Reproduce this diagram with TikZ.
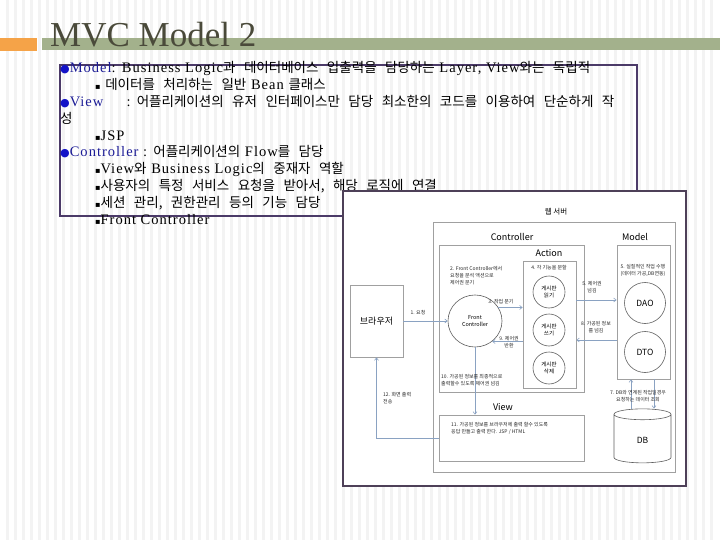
\documentclass[tikz,border=0pt]{standalone}
\usepackage{fontspec}
\setmainfont{Liberation Serif}[LetterSpace=7]
\newfontfamily\krf{Noto Sans CJK KR}[Scale=0.9995]
\newfontfamily\krbody{Noto Sans CJK KR}[WordSpace=2.8]
\newfontfamily\symf{DejaVu Sans}
\usetikzlibrary{arrows.meta, positioning, shapes.geometric, calc}
\definecolor{stripe}{HTML}{F3F3F3}
\definecolor{orangebar}{HTML}{F5A348}
\definecolor{greenbar}{HTML}{A3B18C}
\definecolor{titletext}{HTML}{4A4A3A}
\definecolor{boxline}{HTML}{4B3A68}
\definecolor{bulblue}{HTML}{1414C8}
\definecolor{keyblue}{HTML}{1C1C96}
\definecolor{frameline}{HTML}{4E4058}
\definecolor{grayline}{HTML}{A0A0A0}
\definecolor{circline}{HTML}{606060}
\definecolor{flowline}{HTML}{8AA2C2}
\definecolor{tinytext}{HTML}{262626}
\newcommand\hg[1]{{\krbody\fontsize{13.5}{14}\selectfont #1}}
\newcommand\bul{{\symf\fontsize{11}{11}\selectfont\color{bulblue}●}}
\newcommand\sq{{\symf\fontsize{8}{8}\selectfont ▪}}
\tikzset{
  txt/.style     = {anchor=base west, inner sep=0pt, font=\fontsize{14.5}{15}\selectfont},
  grp/.style     = {draw=grayline, line width=0.8pt, minimum width=#1},
  grp/.default   = 10pt,
  circ/.style    = {ellipse, draw=circline, line width=0.6pt, align=center, inner sep=0pt,
                    font=\krf\fontsize{5.5}{6.5}\selectfont},
  steplbl/.style = {align=left, inner sep=0pt, text=tinytext, font=\krf\fontsize{5}{7}\selectfont},
  hdr/.style     = {inner sep=0pt, font=\krf\fontsize{9}{10}\selectfont},
  flow/.style    = {-{Straight Barb[length=2.5pt,width=4pt]}, draw=flowline, line width=0.6pt},
}

\begin{document}
\begin{tikzpicture}[x=1pt, y=-1pt]
  \useasboundingbox (0,0) rectangle (720,540);
  % slide background
  \foreach \sx in {7.5,15.5,...,719} {\fill[stripe] (\sx-1.2,0) rectangle (\sx+1.2,540);}
  \fill[orangebar] (0,38) rectangle (37,51);
  \fill[greenbar] (42,38) rectangle (720,50);
  \node[anchor=base west, inner sep=0pt, text=titletext, font=\addfontfeatures{LetterSpace=0}\fontsize{35}{35}\selectfont]
    (title) at (50,47) {MVC Model 2};

  % bullet text
  \draw[boxline, line width=1.2pt] (60,65) rectangle (637,216);
  \node[txt] (l1) at (60,73.0) {\bul{\color{keyblue}Model}: Business Logic\hg{과 데이터베이스 입출력을 담당하는} Layer, View\hg{와는 독립적}};
  \node[txt] (l2) at (95,89.8) {\sq\ \hg{데이터를 처리하는 일반} Bean \hg{클래스}};
  \node[txt] (l3) at (60,106.6) {\bul{\color{keyblue}View}\ \ \ \ \ : \hg{어플리케이션의 유저 인터페이스만 담당 최소한의 코드를 이용하여 단순하게 작}};
  \node[txt] (l4) at (60,123.4) {\hg{성}};
  \node[txt] (l5) at (95,140.2) {\sq JSP};
  \node[txt] (l6) at (60,157.0) {\bul{\color{keyblue}Controller} : \hg{어플리케이션의} Flow\hg{를 담당}};
  \node[txt] (l7) at (95,173.8) {\sq View\hg{와} Business Logic\hg{의 중재자 역할}};
  \node[txt] (l8) at (95,190.6) {\sq\hg{사용자의 특정 서비스 요청을 받아서, 해당 로직에 연결}};
  \node[txt] (l9) at (95,207.4) {\sq\hg{세션 관리, 권한관리 등의 기능 담당}};
  \node[txt] (l10) at (95,224.2) {\sq Front Controller};

  % web server figure
  \draw[frameline, fill=white, line width=1.3pt] (343,191) rectangle (686,486);
  \node[hdr, font=\krf\fontsize{7.5}{8}\selectfont] (wstitle) at (556,212) {웹 서버};
  \node[grp=242pt, minimum height=250pt] (web) at (554,347) {};
  \node[hdr] (ctrltitle) at (512,237) {Controller};
  \node[grp=145pt, minimum height=147pt] (ctrl) at (511.5,318.5) {};
  \node[hdr] (acttitle) at (549,253) {Action};
  \node[grp=53pt, minimum height=127pt] (act) at (549.5,324.5) {};
  \node[hdr] (modeltitle) at (635,237) {Model};
  \node[grp=53pt, minimum height=134pt] (model) at (643.5,312) {};
  \node[hdr] (viewtitle) at (503,407) {View};
  \node[grp=145pt, minimum height=46pt] (view) at (511.5,438) {};
  \node[grp=53pt, minimum height=72pt, font=\krf\fontsize{9}{10}\selectfont] (browser) at (376.5,321) {브라우저};

  \node[circ, minimum width=54pt, minimum height=52pt] (fc) at (475,321) {Front\\Controller};
  \foreach \nm/\yy/\lb in {rd/292/읽기, wr/330/쓰기, del/368/삭제}
    {\node[circ, minimum size=32pt] (\nm) at (549,\yy) {게시판\\\lb};}
  \node[circ, minimum size=41pt, font=\krf\fontsize{8.5}{9}\selectfont] (dao) at (645,303) {DAO};
  \node[circ, minimum size=41pt, font=\krf\fontsize{8.5}{9}\selectfont] (dto) at (645,352) {DTO};
  \node[cylinder, shape border rotate=90, draw=circline, line width=0.6pt, aspect=0.6,
        minimum width=57pt, minimum height=54pt, font=\krf\fontsize{8.5}{9}\selectfont] (db) at (642.5,440) {DB};

  % connectors
  \coordinate (p5) at ($(model.west)+(0,-12)$);
  \coordinate (p8) at ($(model.west)+(0,28)$);
  \coordinate (pu) at ($(model.south)+(-12.5,0)$);
  \coordinate (pd) at ($(model.south)+(10.5,0)$);
  \draw[flow] (browser.east) -- (fc.west |- browser.east);
  \draw[flow] (fc.30) -- (fc.30 -| act.west);
  \draw[flow] (fc.-50 -| act.west) -- (fc.-50);
  \draw[flow] (p5 -| act.east) -- (p5);
  \draw[flow] (p8) -- (p8 -| act.east);
  \draw[flow] (pu |- db.north) -- (pu);
  \draw[flow] (pd) -- (pd |- db.north);
  \draw[flow] (fc.south) -- (fc.south |- view.north);
  \draw[flow] (view.west) -- (view.west -| browser.south) -- (browser.south);

  % step labels
  \node[steplbl] (s1) at (418,313) {1. 요청};
  \node[steplbl, anchor=north west] (s2) at (450,266) {2. Front Controller에서\\요청을 분석 액션으로\\제어권 분기};
  \node[steplbl] (s3) at (501,302) {3. 작업 분기};
  \node[steplbl] (s4) at (549,268) {4. 각 기능을 분할};
  \node[steplbl, align=center] (s5) at (592,287) {5. 제어권\\넘김};
  \node[steplbl, align=center] (s5b) at (643,270) {5. 실질적인 작업 수행\\(데이터 가공,DB연동)};
  \node[steplbl, align=center] (s8) at (596,327) {8. 가공된 정보\\를 넘김};
  \node[steplbl, align=center] (s9) at (509,342) {9. 제어권\\반환};
  \node[steplbl, align=center] (s7) at (638,396) {7. DB와 연계된 작업일경우\\요청하는 데이터 조회};
  \node[steplbl, anchor=west] (s10) at (441,380) {10. 가공된 정보를 최종적으로\\출력할수 있도록 제어권 넘김};
  \node[steplbl, anchor=west] (s11) at (451,428.5) {11. 가공된 정보를 브라우저에 출력 할수 있도록\\응답 만들고 출력 한다. JSP / HTML};
  \node[steplbl, anchor=west] (s12) at (383,398) {12. 화면 출력\\전송};
\end{tikzpicture}
\end{document}
